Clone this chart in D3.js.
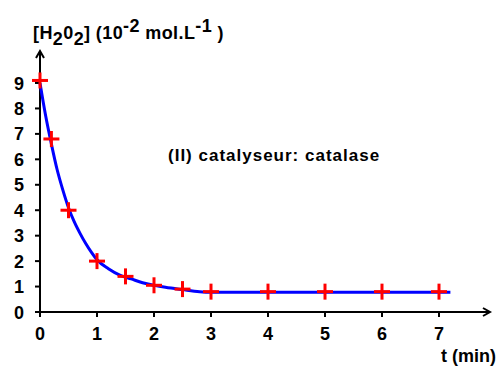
<!DOCTYPE html>
<style>
  body { margin: 0; background: #fff; }
  text { font-family: "Liberation Sans", Arial, sans-serif; font-weight: bold; fill: #000; }
</style>
<svg width="497" height="366"></svg>
<script src="https://d3js.org/d3.v7.min.js"></script>
<script>

// measured points (red crosses)
var times = [0, 0.2, 0.5, 1, 1.5, 2, 2.5, 3, 4, 5, 6, 7];
var conc = [9.1, 6.8, 4.0, 2.0, 1.4, 1.05, 0.9, 0.8, 0.8, 0.8, 0.8, 0.8];

// fitted curve (blue)
var curveT = [0, 0.1, 0.2, 0.3, 0.4, 0.5, 0.6, 0.7, 0.8, 0.9, 1.0, 1.2, 1.4, 1.6, 1.8, 2.0, 2.2, 2.5, 2.8, 3.0, 4, 5, 6, 7, 7.2];
var curveC = [9.0, 7.7, 6.6, 5.6, 4.8, 4.1, 3.55, 3.1, 2.7, 2.35, 2.05, 1.7, 1.45, 1.3, 1.15, 1.05, 0.97, 0.88, 0.8, 0.78, 0.78, 0.78, 0.78, 0.78, 0.78];

var xTicks = [0, 1, 2, 3, 4, 5, 6, 7];
var yTicks = [0, 1, 2, 3, 4, 5, 6, 7, 8, 9];

var svg = d3.select("svg");

var x = d3.scaleLinear().domain([0, 7]).range([40, 439]);
var y = d3.scaleLinear().domain([0, 9]).range([312, 83]);

// axes
var axes = svg.append("g").attr("stroke", "#000").attr("stroke-width", 2).attr("fill", "none");
axes.append("line").attr("x1", x(0)).attr("x2", 489).attr("y1", y(0)).attr("y2", y(0));
axes.append("line").attr("x1", x(0)).attr("x2", x(0)).attr("y1", y(0)).attr("y2", 51);
axes.append("path").attr("d", "M" + (x(0) - 4) + ",58L" + x(0) + ",51L" + (x(0) + 4) + ",58");
axes.append("path").attr("d", "M483," + (y(0) - 4) + "L490," + y(0) + "L483," + (y(0) + 4));

xTicks.forEach(function(t) {
  axes.append("line").attr("x1", x(t)).attr("x2", x(t)).attr("y1", y(0)).attr("y2", y(0) + 5);
  svg.append("text").attr("x", x(t)).attr("y", 340).attr("text-anchor", "middle")
    .attr("font-size", 18).text(t);
});
yTicks.forEach(function(v) {
  axes.append("line").attr("x1", x(0) - 5).attr("x2", x(0)).attr("y1", y(v)).attr("y2", y(v));
  svg.append("text").attr("x", 24).attr("y", y(v) + 6.5).attr("text-anchor", "end")
    .attr("font-size", 18).text(v);
});

// curve
var line = d3.line().x(function(d, i) { return x(curveT[i]); }).y(function(d) { return y(d); })
  .curve(d3.curveMonotoneX);
svg.append("path").datum(curveC).attr("d", line)
  .attr("fill", "none").attr("stroke", "#0000ff").attr("stroke-width", 3);

// crosses
var cross = svg.append("g").attr("stroke", "#ff0000").attr("stroke-width", 3);
conc.forEach(function(c, i) {
  var cx = x(times[i]), cy = y(c);
  cross.append("line").attr("x1", cx - 8).attr("x2", cx + 8).attr("y1", cy).attr("y2", cy);
  cross.append("line").attr("x1", cx).attr("x2", cx).attr("y1", cy - 8).attr("y2", cy + 8);
});

// title
var title = svg.append("text").attr("x", 33).attr("y", 39).attr("font-size", 18)
  .attr("letter-spacing", 0.4);
title.append("tspan").text("[H");
title.append("tspan").attr("dy", 6).text("2");
title.append("tspan").attr("dy", -6).text("0");
title.append("tspan").attr("dy", 6).text("2");
title.append("tspan").attr("dy", -6).text("] (10");
title.append("tspan").attr("dy", -7).text("-2");
title.append("tspan").attr("dy", 7).text(" mol.L");
title.append("tspan").attr("dy", -7).text("-1");
title.append("tspan").attr("dy", 7).text(" )");

svg.append("text").attr("x", 168).attr("y", 161).attr("font-size", 17).attr("letter-spacing", 1)
  .text("(II) catalyseur: catalase");

svg.append("text").attr("x", 496).attr("y", 362).attr("text-anchor", "end").attr("font-size", 18)
  .text("t (min)");
</script>
